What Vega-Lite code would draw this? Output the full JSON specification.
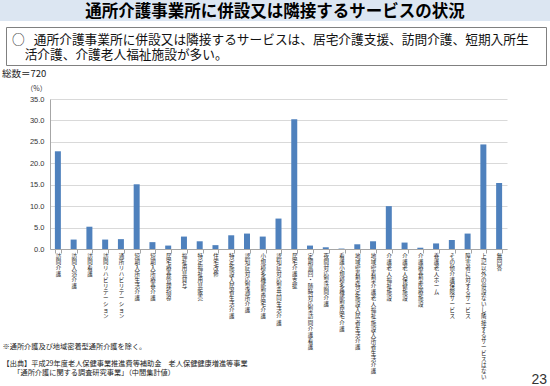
{
  "$schema": "https://vega.github.io/schema/vega-lite/v6.json",
  "padding": 0,
  "background": "white",
  "title": {
    "text": "23",
    "orient": "bottom",
    "anchor": "end",
    "frame": "bounds",
    "offset": -8,
    "dx": -3,
    "font": "Liberation Sans",
    "fontSize": 14,
    "fontWeight": "normal",
    "color": "#333333"
  },
  "spacing": 5,
  "vconcat": [
    {
      "width": 550,
      "height": 21,
      "view": {"fill": "#dce6f2", "stroke": null},
      "data": {"values": [{"t": "通所介護事業所に併設又は隣接するサービスの状況"}]},
      "mark": {"type": "text", "font": "Noto Sans CJK JP", "fontSize": 16.5, "fontWeight": "bold", "color": "#000000", "align": "center", "baseline": "middle", "dy": 1},
      "encoding": {"text": {"field": "t", "type": "nominal"}}
    },
    {
      "spacing": 2,
      "vconcat": [
        {
          "spacing": 4,
          "hconcat": [
            {
              "width": 1, "height": 1, "view": {"stroke": null},
              "data": {"values": []},
              "mark": "point"
            },
            {
              "width": 540,
              "height": 38,
              "view": {"fill": "white", "stroke": "#808080", "strokeWidth": 1},
              "layer": [
                {
                  "data": {"values": [{"t": "○\u2002 通所介護事業所に併設又は隣接するサービスは、居宅介護支援、訪問介護、短期入所生"}]},
                  "mark": {"type": "text", "font": "Noto Sans CJK JP", "fontSize": 12.7, "color": "#111111", "align": "left", "baseline": "middle", "dx": 6, "dy": -6},
                  "encoding": {
                    "text": {"field": "t", "type": "nominal"},
                    "x": {"datum": 0, "type": "quantitative", "scale": {"domain": [0, 1]}, "axis": null}
                  }
                },
                {
                  "data": {"values": [{"t": "\u200b\u3000活介護、介護老人福祉施設が多い。"}]},
                  "mark": {"type": "text", "font": "Noto Sans CJK JP", "fontSize": 12.7, "color": "#111111", "align": "left", "baseline": "middle", "dx": 6, "dy": 9},
                  "encoding": {
                    "text": {"field": "t", "type": "nominal"},
                    "x": {"datum": 0, "type": "quantitative", "scale": {"domain": [0, 1]}, "axis": null}
                  }
                }
              ]
            }
          ]
        },
        {
          "spacing": 0,
          "hconcat": [
            {
              "width": 1, "height": 1, "view": {"stroke": null},
              "data": {"values": []},
              "mark": "point"
            },
            {
              "width": 457,
              "height": 150,
              "view": {"stroke": null},
              "title": {"text": "総数＝720", "anchor": "start", "frame": "bounds", "font": "Noto Sans CJK JP", "fontSize": 9.5, "fontWeight": "normal", "color": "#222222", "offset": 6, "dx": 1},
              "data": {"values": [
                {"service": "訪問介護", "pct": 22.8},
                {"service": "訪問入浴介護", "pct": 2.2},
                {"service": "訪問看護", "pct": 5.2},
                {"service": "訪問リハビリテーション", "pct": 2.2},
                {"service": "通所リハビリテーション", "pct": 2.3},
                {"service": "短期入所生活介護", "pct": 15.1},
                {"service": "短期入所療養介護", "pct": 1.6},
                {"service": "居宅療養管理指導", "pct": 0.8},
                {"service": "福祉用具貸与", "pct": 2.9},
                {"service": "特定福祉用具販売", "pct": 1.8},
                {"service": "住宅改修", "pct": 0.9},
                {"service": "特定施設入居者生活介護", "pct": 3.2},
                {"service": "認知症対応型通所介護", "pct": 3.6},
                {"service": "小規模多機能型居宅介護", "pct": 2.9},
                {"service": "認知症対応型共同生活介護", "pct": 7.1},
                {"service": "居宅介護支援", "pct": 30.3},
                {"service": "定期巡回・随時対応型訪問介護看護", "pct": 0.8},
                {"service": "夜間対応型訪問介護", "pct": 0.4},
                {"service": "看護小規模多機能型居宅介護", "pct": 0.1},
                {"service": "地域密着型特定施設入居者生活介護", "pct": 1.1},
                {"service": "地域密着型介護老人福祉施設入所者生活介護", "pct": 1.8},
                {"service": "介護老人福祉施設", "pct": 10.0},
                {"service": "介護老人保健施設", "pct": 1.5},
                {"service": "介護療養型医療施設", "pct": 0.3},
                {"service": "養護老人ホーム", "pct": 1.3},
                {"service": "その他介護保険サービス", "pct": 2.1},
                {"service": "障害者に対するサービス", "pct": 3.6},
                {"service": "上記以外の併設ないし隣接するサービスはない", "pct": 24.4},
                {"service": "無回答", "pct": 15.4}
              ]},
              "mark": {"type": "bar", "color": "#4f81bd"},
              "encoding": {
                "x": {
                  "field": "service", "type": "nominal", "sort": null,
                  "scale": {"paddingInner": 0.62, "paddingOuter": 0.31},
                  "axis": {
                    "title": ["※通所介護及び地域密着型通所介護を除く。", "\u200b", "【出典】平成29年度老人保健事業推進費等補助金　老人保健健康増進等事業", "\u200b\u3000\u3000「通所介護に関する調査研究事業」（中間集計値）"],
                    "titleX": -48, "titleY": 97, "titleAlign": "left", "titleBaseline": "middle", "titleLineHeight": 8.7,
                    "titleFont": "Noto Sans CJK JP", "titleFontSize": 7.2, "titleFontWeight": "normal", "titleColor": "#222222",
                    "labelExpr": "split(datum.label, '')",
                    "labelAngle": 0, "labelAlign": "center", "labelBaseline": "top",
                    "labelFont": "Noto Sans CJK JP", "labelFontSize": 5.5, "labelLineHeight": 6.1, "labelColor": "#222222",
                    "labelPadding": 0, "labelOverlap": false,
                    "tickBand": "extent", "tickSize": 4, "tickColor": "#a6a6a6",
                    "domainColor": "#a6a6a6", "grid": false
                  }
                },
                "y": {
                  "field": "pct", "type": "quantitative",
                  "scale": {"domain": [0, 35], "nice": false},
                  "axis": {
                    "title": "（%）", "titleAngle": 0, "titleX": -14, "titleY": -11, "titleAlign": "center", "titleBaseline": "middle",
                    "titleFont": "Noto Sans CJK JP", "titleFontSize": 7, "titleFontWeight": "normal", "titleColor": "#333333",
                    "values": [0, 5, 10, 15, 20, 25, 30, 35], "format": ".1f",
                    "labelFont": "Liberation Sans", "labelFontSize": 7.5, "labelColor": "#333333", "labelPadding": 6,
                    "ticks": false, "domain": true, "domainColor": "#a6a6a6",
                    "grid": true, "gridColor": "#d9d9d9",
                    "minExtent": 49, "maxExtent": 49
                  }
                }
              }
            }
          ]
        }
      ]
    }
  ]
}
